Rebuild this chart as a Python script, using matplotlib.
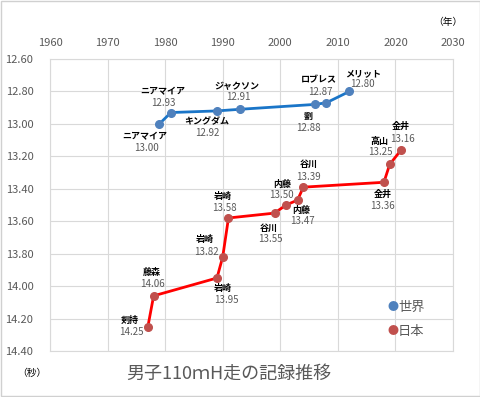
import matplotlib
matplotlib.use("Agg")
import matplotlib.pyplot as plt
from matplotlib.patches import Rectangle

plt.rcParams['font.family'] = ['Noto Sans CJK JP', 'DejaVu Sans']

# World records
world_years = [1979, 1981, 1989, 1993, 2006, 2008, 2012]
world_times = [13.00, 12.93, 12.92, 12.91, 12.88, 12.87, 12.80]
world_names = ["ニアマイア", "ニアマイア", "キングダム", "ジャクソン", "劉", "ロブレス", "メリット"]

# Japan records
japan_years = [1977, 1978, 1989, 1990, 1991, 1999, 2001, 2003, 2004, 2018, 2019, 2021]
japan_times = [14.25, 14.06, 13.95, 13.82, 13.58, 13.55, 13.50, 13.47, 13.39, 13.36, 13.25, 13.16]
japan_names = ["剣持", "藤森", "岩崎", "岩崎", "岩崎", "谷川", "内藤", "内藤", "谷川", "金井", "高山", "金井"]

x_ticks = [1960, 1970, 1980, 1990, 2000, 2010, 2020, 2030]
y_ticks = [12.60, 12.80, 13.00, 13.20, 13.40, 13.60, 13.80, 14.00, 14.20, 14.40]

# label offsets in pixels (name dx, name dy, value dx, value dy), dy downward
world_off = [(-15, 13, -13, 24), (-8, -21, -8, -10), (-10, 11, -10, 22),
             (-3, -23, -2, -12), (-6, 12, -6, 24), (-7, -23, -6, -11),
             (14, -18, 13, -7)]
japan_off = [(-18, -6, -17, 5), (-2, -23, -1, -12), (6, 10, 9, 22),
             (-18, -17, -16, -5), (-6, -22, -4, -10), (-6, 15, -4, 26),
             (-4, -21, -5, -10), (4, 10, 5, 21), (5, -23, 5, -10),
             (-1, 12, -1, 24), (-10, -23, -9, -12), (0, -23, 1, -11)]

W, H = 481, 397
fig = plt.figure(figsize=(W / 100, H / 100), dpi=100)
fig.patches.append(Rectangle((0.002, 0.002), 0.995, 0.995, transform=fig.transFigure,
                             fill=False, edgecolor='#d0d0d0', lw=1))
ax = fig.add_axes([50 / W, (H - 351) / H, 403 / W, 292 / H])

grid_c = '#d9d9d9'
txt_c = '#595959'

ax.set_xlim(1960, 2030)
ax.set_ylim(14.40, 12.60)
ax.set_xticks(x_ticks)
ax.set_yticks(y_ticks)
ax.set_yticklabels([f"{v:.2f}" for v in y_ticks])
ax.xaxis.tick_top()
ax.tick_params(length=0, labelsize=8, colors=txt_c)
ax.tick_params(axis='x', pad=8)
ax.tick_params(axis='y', pad=12)
ax.grid(True, color=grid_c, lw=0.8)
ax.set_axisbelow(True)
for s in ax.spines.values():
    s.set_color(grid_c)
    s.set_linewidth(0.8)

ax.plot(world_years, world_times, color='#1a75c8', lw=2, marker='o', ms=5.5,
        mfc='#4f81bd', mec='#4f81bd', zorder=3)
ax.plot(japan_years, japan_times, color='#ff0000', lw=2, marker='o', ms=5.5,
        mfc='#c0504d', mec='#c0504d', zorder=3)

def label(xs, ys, names, offs):
    for x, y, n, (ndx, ndy, vdx, vdy) in zip(xs, ys, names, offs):
        ax.annotate(n, (x, y), xytext=(ndx, -ndy), textcoords='offset pixels',
                    ha='center', va='center', fontsize=6.5, color='black',
                    fontweight='bold', zorder=4)
        ax.annotate(f"{y:.2f}", (x, y), xytext=(vdx, -vdy), textcoords='offset pixels',
                    ha='center', va='center', fontsize=7, color=txt_c, zorder=4)

label(world_years, world_times, world_names, world_off)
label(japan_years, japan_times, japan_names, japan_off)

# legend
fig.text(393 / W, 1 - 307 / H, '●', color='#4f81bd', fontsize=8, ha='center', va='center')
fig.text(398 / W, 1 - 307 / H, '世界', color=txt_c, fontsize=9.5, ha='left', va='center')
fig.text(393 / W, 1 - 331 / H, '●', color='#c0504d', fontsize=8, ha='center', va='center')
fig.text(398 / W, 1 - 331 / H, '日本', color=txt_c, fontsize=9.5, ha='left', va='center')

fig.text(448 / W, 1 - 22 / H, '（年）', color='black', fontsize=7, ha='center', va='center')
fig.text(32 / W, 1 - 373 / H, '（秒）', color='black', fontsize=7, ha='center', va='center')
fig.text(229 / W, 1 - 374 / H, '男子110ｍH走の記録推移', color=txt_c, fontsize=13,
         ha='center', va='center')

fig.savefig('out.png', dpi=100)
